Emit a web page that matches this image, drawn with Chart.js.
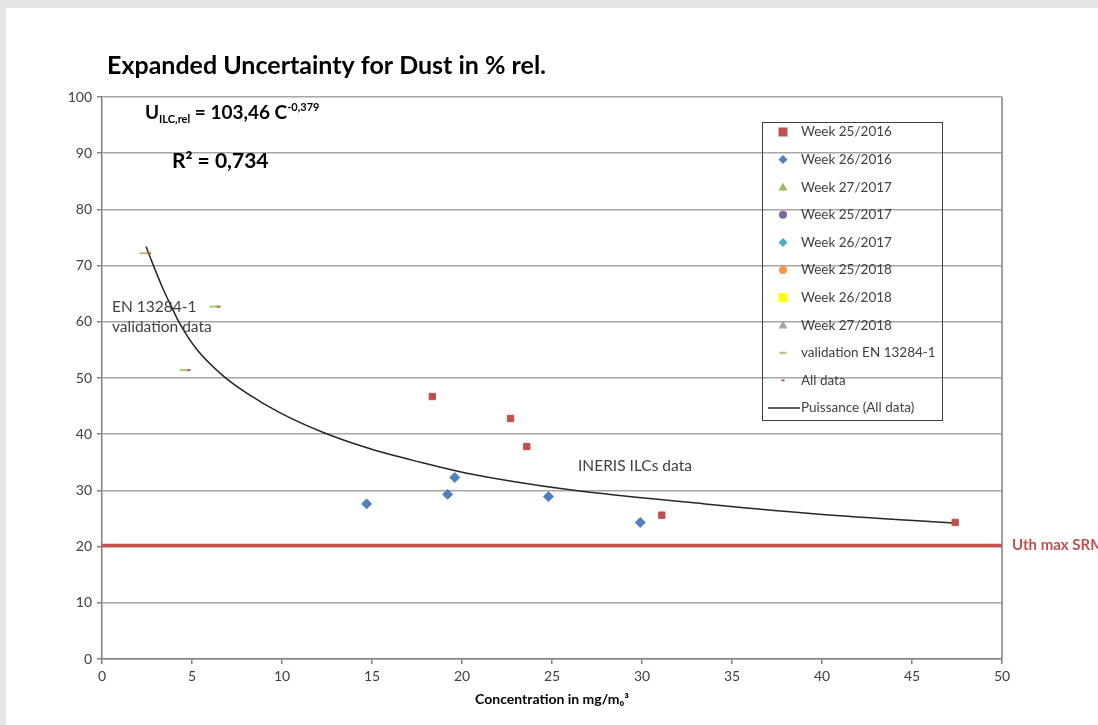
<!DOCTYPE html>
<html>
<head>
<meta charset="utf-8">
<script src="https://cdn.jsdelivr.net/npm/chart.js@4.4.1/dist/chart.umd.min.js"></script>
<style>
  html, body { margin: 0; padding: 0; background: #e6e6e6; overflow: hidden; }
  #wrap { position: absolute; left: 6px; top: 8px; width: 1092px; height: 717px; background: #fff; }
</style>
</head>
<body>
<div id="wrap"><canvas id="chart" width="1092" height="717"></canvas></div>
<script>
// data
const week25_2016 = [[18.35, 46.7], [22.7, 42.8], [23.6, 37.8], [31.1, 25.6], [47.4, 24.3]];
const week26_2016 = [[14.7, 27.6], [19.2, 29.3], [19.6, 32.3], [24.8, 28.9], [29.9, 24.3]];
const validationEN = [[2.31, 72.2], [6.19, 62.7], [4.53, 51.4]];
const allDataValidation = [[2.58, 72.2], [6.44, 62.7], [4.78, 51.4]];
const trendX = [2.45, 2.76, 3.4, 3.87, 4.3, 5.26, 6.65, 8.04, 9.9, 12.3, 14.9, 17.7, 20.2, 26.0, 33.5, 40.6, 47.3];
const trendY = [73.4, 70.8, 65.8, 62.6, 59.8, 55.1, 50.6, 47.3, 43.8, 40.3, 37.4, 35.0, 33.1, 30.1, 27.6, 25.6, 24.2];
const uthX = [0, 50];
const uthY = [20.2, 20.2];

const pts = arr => arr.map(p => ({ x: p[0], y: p[1] }));
const font = "Lato, 'Open Sans', sans-serif";

const datasets = [
  { label: "Week 25/2016", data: pts(week25_2016), pointStyle: "rect", radius: 4.5, backgroundColor: "#c0504d", borderColor: "#c0504d", order: 0 },
  { label: "Week 26/2016", data: pts(week26_2016), pointStyle: "rectRot", radius: 5, backgroundColor: "#4f81bd", borderColor: "#4f81bd", order: 0 },
  { label: "Week 27/2017", data: [], pointStyle: "triangle", radius: 5, backgroundColor: "#9bbb59", borderColor: "#9bbb59", order: 0 },
  { label: "Week 25/2017", data: [], pointStyle: "circle", radius: 4, backgroundColor: "#8064a2", borderColor: "#8064a2", order: 0 },
  { label: "Week 26/2017", data: [], pointStyle: "rectRot", radius: 5, backgroundColor: "#4bacc6", borderColor: "#4bacc6", order: 0 },
  { label: "Week 25/2018", data: [], pointStyle: "circle", radius: 4, backgroundColor: "#f79646", borderColor: "#f79646", order: 0 },
  { label: "Week 26/2018", data: [], pointStyle: "rect", radius: 4.5, backgroundColor: "#ffff00", borderColor: "#ffff00", order: 0 },
  { label: "Week 27/2018", data: [], pointStyle: "triangle", radius: 5, backgroundColor: "#a5a5a5", borderColor: "#a5a5a5", order: 0 },
  { label: "validation EN 13284-1", data: pts(validationEN), pointStyle: "line", radius: 4, borderWidth: 2, backgroundColor: "#a9c777", borderColor: "#a9c777", order: 1 },
  { label: "All data", data: pts(allDataValidation.concat(week25_2016, week26_2016)), pointStyle: "line", radius: 2.5, borderWidth: 2, backgroundColor: "#c0504d", borderColor: "#c0504d", order: 2 },
  { label: "Puissance (All data)", data: trendX.map((x, i) => ({ x: x, y: trendY[i] })), showLine: true, pointRadius: 0, borderColor: "#262626", borderWidth: 1.5, cubicInterpolationMode: "monotone", order: 3, isLine: true },
  { label: "Uth", data: uthX.map((x, i) => ({ x: x, y: uthY[i] })), showLine: true, pointRadius: 0, borderColor: "#c4524f", borderWidth: 3.5, order: 5, noLegend: true }
];

function marker(ctx, style, x, y, r, color) {
  ctx.save();
  ctx.fillStyle = color;
  ctx.strokeStyle = color;
  ctx.beginPath();
  if (style === "rect") {
    ctx.fillRect(x - r, y - r, 2 * r, 2 * r);
  } else if (style === "rectRot") {
    ctx.moveTo(x, y - r); ctx.lineTo(x + r, y); ctx.lineTo(x, y + r); ctx.lineTo(x - r, y); ctx.closePath(); ctx.fill();
  } else if (style === "triangle") {
    ctx.moveTo(x, y - r); ctx.lineTo(x + r, y + r * 0.75); ctx.lineTo(x - r, y + r * 0.75); ctx.closePath(); ctx.fill();
  } else if (style === "circle") {
    ctx.arc(x, y, r, 0, Math.PI * 2); ctx.fill();
  } else if (style === "line") {
    ctx.lineWidth = 2; ctx.moveTo(x - r, y); ctx.lineTo(x + r, y); ctx.stroke();
  }
  ctx.restore();
}

const decorations = {
  id: "decorations",
  afterDraw(chart) {
    const ctx = chart.ctx;
    const area = chart.chartArea;
    const yScale = chart.scales.y;
    ctx.save();

    // right border of plot
    ctx.strokeStyle = "#808080";
    ctx.lineWidth = 1.5;
    ctx.beginPath();
    ctx.moveTo(area.right, area.top);
    ctx.lineTo(area.right, area.bottom);
    ctx.stroke();

    // title
    ctx.fillStyle = "#000";
    ctx.textBaseline = "alphabetic";
    ctx.textAlign = "left";
    ctx.font = "bold 25px " + font;
    ctx.fillText("Expanded Uncertainty for Dust in % rel.", 101, 66);

    // equation
    let x = 139, base = 111;
    ctx.font = "bold 19px " + font;
    ctx.fillText("U", x, base); x += ctx.measureText("U").width;
    ctx.font = "bold 11px " + font;
    ctx.fillText("ILC,rel", x, base + 4); x += ctx.measureText("ILC,rel").width;
    ctx.font = "bold 19px " + font;
    ctx.fillText(" = 103,46 C", x, base); x += ctx.measureText(" = 103,46 C").width;
    ctx.font = "bold 11px " + font;
    ctx.fillText("-0,379", x, base - 8);
    ctx.font = "bold 21px " + font;
    ctx.fillText("R\u00b2 = 0,734", 166, 160);

    // annotations
    ctx.fillStyle = "#404040";
    ctx.font = "15.5px " + font;
    ctx.textBaseline = "middle";
    ctx.fillText("EN 13284-1", 106, 299);
    ctx.fillText("validation data", 106, 319);
    ctx.fillText("INERIS ILCs data", 572, 458);

    // Uth label
    ctx.fillStyle = "#c0504d";
    ctx.font = "bold 15px " + font;
    ctx.fillText("Uth max SRM", area.right + 10, yScale.getPixelForValue(uthY[1]));

    // legend (transparent box, gridlines show through)
    const lx = 756, ly = 114, lw = 180, lh = 298;
    ctx.strokeStyle = "#404040";
    ctx.lineWidth = 1;
    ctx.strokeRect(lx + 0.5, ly + 0.5, lw, lh);
    ctx.font = "13.5px " + font;
    let row = 0;
    chart.data.datasets.forEach(ds => {
      if (ds.noLegend) return;
      const cy = ly + 10 + row * 27.6;
      if (ds.isLine) {
        ctx.strokeStyle = ds.borderColor;
        ctx.lineWidth = 1.5;
        ctx.beginPath();
        ctx.moveTo(lx + 6, cy); ctx.lineTo(lx + 38, cy);
        ctx.stroke();
      } else {
        const r = ds.pointStyle === "line" ? (ds.label === "All data" ? 1.5 : 3.5) : Math.min(ds.radius, 4.5);
        marker(ctx, ds.pointStyle, lx + 21, cy, r, ds.backgroundColor);
      }
      ctx.fillStyle = "#404040";
      ctx.fillText(ds.label, lx + 39, cy);
      row++;
    });
    ctx.restore();
  }
};

new Chart(document.getElementById("chart"), {
  type: "scatter",
  data: { datasets: datasets },
  options: {
    responsive: false,
    animation: false,
    layout: { padding: { top: 89, right: 96, left: 0, bottom: 0 } },
    plugins: { legend: { display: false }, tooltip: { enabled: false } },
    scales: {
      x: {
        type: "linear", min: 0, max: 50,
        afterFit: s => { s.height = 66; },
        ticks: { stepSize: 5, color: "#404040", font: { family: font, size: 14 }, padding: 4 },
        grid: { drawOnChartArea: false, tickLength: 5, color: "#808080", lineWidth: 1.5 },
        border: { color: "#808080", width: 1.5 },
        title: { display: true, text: "Concentration in mg/m\u2080\u00b3", color: "#000", font: { family: font, size: 14, weight: "bold" }, padding: { top: 0, bottom: 17 } }
      },
      y: {
        min: 0, max: 100,
        afterFit: s => { s.width = 96; },
        ticks: { stepSize: 10, color: "#404040", font: { family: font, size: 14 }, padding: 5 },
        grid: { color: "#a6a6a6", lineWidth: 1.5, tickColor: "#808080", tickLength: 5 },
        border: { color: "#808080", width: 1.5 }
      }
    }
  },
  plugins: [decorations]
});
</script>
</body>
</html>
